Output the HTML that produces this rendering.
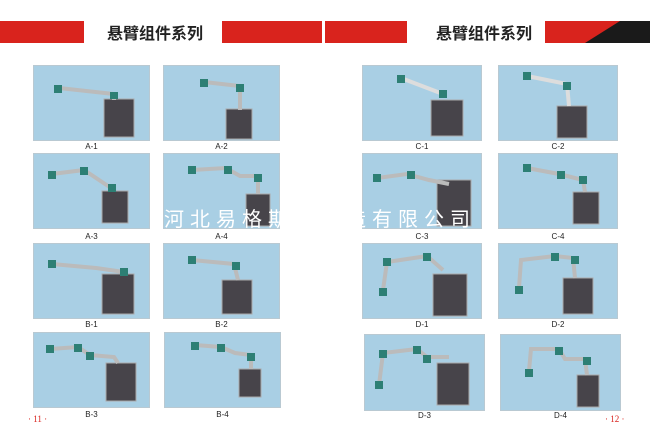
<!DOCTYPE html>
<html><head><meta charset="utf-8"><style>
body{margin:0;width:650px;height:444px;background:#fff;position:relative;overflow:hidden;font-family:"Liberation Sans","Noto Sans CJK SC",sans-serif}
.r{position:absolute;background:#d9231d;top:21px;height:22px}
.t{position:absolute;top:21px;font:bold 16px "Noto Sans CJK SC",sans-serif;color:#222;line-height:22px}
.p{position:absolute;width:117px;height:76px;background:#a9cfe4;border:1px solid #b9c9d2;box-sizing:border-box}
.p svg{position:absolute;left:0;top:0}
.l{position:absolute;width:117px;text-align:center;font-size:8px;color:#222}
.n{position:absolute;top:414px;font:9px "Liberation Serif",serif;color:#d9231d}
.w{position:absolute;left:164px;top:203px;font:20px "Noto Sans CJK SC",sans-serif;color:#fff;letter-spacing:6px;white-space:nowrap}
</style></head><body>
<div class="r" style="left:0;width:84px"></div>
<div class="t" style="left:107px">悬臂组件系列</div>
<div class="r" style="left:222px;width:100px"></div>
<div class="r" style="left:325px;width:82px"></div>
<div class="t" style="left:436px">悬臂组件系列</div>
<div class="r" style="left:545px;width:105px"></div>
<svg style="position:absolute;left:545px;top:21px" width="105" height="22"><polygon points="40,22 75,0 105,0 105,22" fill="#1a1a1a"/></svg>

<div class="p" style="left:33px;top:65px"><svg width="117" height="76"><rect x="70" y="33" width="30" height="38" fill="#47444a" stroke="#aaa"/><polyline points="25,22 80,28 80,34" fill="none" stroke="#bbb" stroke-width="4"/><rect x="20" y="19" width="8" height="8" fill="#2d7f74"/><rect x="76" y="26" width="8" height="7" fill="#2d7f74"/></svg></div>
<div class="l" style="left:33px;top:142px">A-1</div>
<div class="p" style="left:163px;top:65px"><svg width="117" height="76"><rect x="62" y="43" width="26" height="30" fill="#47444a" stroke="#aaa"/><polyline points="40,16 76,20 76,44" fill="none" stroke="#bbb" stroke-width="4"/><rect x="36" y="13" width="8" height="8" fill="#2d7f74"/><rect x="72" y="18" width="8" height="8" fill="#2d7f74"/></svg></div>
<div class="l" style="left:163px;top:142px">A-2</div>
<div class="p" style="left:33px;top:153px"><svg width="117" height="76"><rect x="68" y="37" width="26" height="32" fill="#47444a" stroke="#aaa"/><polyline points="18,20 50,16 80,36" fill="none" stroke="#bbb" stroke-width="4"/><rect x="14" y="17" width="8" height="8" fill="#2d7f74"/><rect x="46" y="13" width="8" height="8" fill="#2d7f74"/><rect x="74" y="30" width="8" height="8" fill="#2d7f74"/></svg></div>
<div class="l" style="left:33px;top:232px">A-3</div>
<div class="p" style="left:163px;top:153px"><svg width="117" height="76"><rect x="82" y="40" width="24" height="32" fill="#47444a" stroke="#aaa"/><polyline points="28,16 62,14 76,22 94,22 94,40" fill="none" stroke="#bbb" stroke-width="4"/><rect x="24" y="12" width="8" height="8" fill="#2d7f74"/><rect x="60" y="12" width="8" height="8" fill="#2d7f74"/><rect x="90" y="20" width="8" height="8" fill="#2d7f74"/></svg></div>
<div class="l" style="left:163px;top:232px">A-4</div>
<div class="p" style="left:33px;top:243px"><svg width="117" height="76"><rect x="68" y="30" width="32" height="40" fill="#47444a" stroke="#aaa"/><polyline points="18,20 62,24 90,28" fill="none" stroke="#bbb" stroke-width="4"/><rect x="14" y="16" width="8" height="8" fill="#2d7f74"/><rect x="86" y="24" width="8" height="8" fill="#2d7f74"/></svg></div>
<div class="l" style="left:33px;top:320px">B-1</div>
<div class="p" style="left:163px;top:243px"><svg width="117" height="76"><rect x="58" y="36" width="30" height="34" fill="#47444a" stroke="#aaa"/><polyline points="28,16 70,20 74,36" fill="none" stroke="#bbb" stroke-width="4"/><rect x="24" y="12" width="8" height="8" fill="#2d7f74"/><rect x="68" y="18" width="8" height="8" fill="#2d7f74"/></svg></div>
<div class="l" style="left:163px;top:320px">B-2</div>
<div class="p" style="left:33px;top:332px"><svg width="117" height="76"><rect x="72" y="30" width="30" height="38" fill="#47444a" stroke="#aaa"/><polyline points="16,16 44,14 56,22 80,24 84,30" fill="none" stroke="#bbb" stroke-width="4"/><rect x="12" y="12" width="8" height="8" fill="#2d7f74"/><rect x="40" y="11" width="8" height="8" fill="#2d7f74"/><rect x="52" y="19" width="8" height="8" fill="#2d7f74"/></svg></div>
<div class="l" style="left:33px;top:410px">B-3</div>
<div class="p" style="left:164px;top:332px"><svg width="117" height="76"><rect x="74" y="36" width="22" height="28" fill="#47444a" stroke="#aaa"/><polyline points="30,12 56,14 70,20 86,22 86,36" fill="none" stroke="#bbb" stroke-width="4"/><rect x="26" y="9" width="8" height="8" fill="#2d7f74"/><rect x="52" y="11" width="8" height="8" fill="#2d7f74"/><rect x="82" y="20" width="8" height="8" fill="#2d7f74"/></svg></div>
<div class="l" style="left:164px;top:410px">B-4</div>

<div class="p" style="left:362px;top:65px;width:120px"><svg width="120" height="76"><rect x="68" y="34" width="32" height="36" fill="#47444a" stroke="#aaa"/><polyline points="38,12 80,28" fill="none" stroke="#ddd" stroke-width="4"/><rect x="34" y="9" width="8" height="8" fill="#2d7f74"/><rect x="76" y="24" width="8" height="8" fill="#2d7f74"/></svg></div>
<div class="l" style="left:362px;top:142px;width:120px">C-1</div>
<div class="p" style="left:498px;top:65px;width:120px"><svg width="120" height="76"><rect x="58" y="40" width="30" height="32" fill="#47444a" stroke="#aaa"/><polyline points="28,10 68,18 70,40" fill="none" stroke="#ddd" stroke-width="4"/><rect x="24" y="6" width="8" height="8" fill="#2d7f74"/><rect x="64" y="16" width="8" height="8" fill="#2d7f74"/></svg></div>
<div class="l" style="left:498px;top:142px;width:120px">C-2</div>
<div class="p" style="left:362px;top:153px;width:120px"><svg width="120" height="76"><rect x="74" y="26" width="34" height="46" fill="#47444a" stroke="#aaa"/><polyline points="14,24 44,20 66,26 86,30" fill="none" stroke="#bbb" stroke-width="4"/><rect x="10" y="20" width="8" height="8" fill="#2d7f74"/><rect x="44" y="17" width="8" height="8" fill="#2d7f74"/></svg></div>
<div class="l" style="left:362px;top:232px;width:120px">C-3</div>
<div class="p" style="left:498px;top:153px;width:120px"><svg width="120" height="76"><rect x="74" y="38" width="26" height="32" fill="#47444a" stroke="#aaa"/><polyline points="28,14 60,20 84,26 86,38" fill="none" stroke="#bbb" stroke-width="4"/><rect x="24" y="10" width="8" height="8" fill="#2d7f74"/><rect x="58" y="17" width="8" height="8" fill="#2d7f74"/><rect x="80" y="22" width="8" height="8" fill="#2d7f74"/></svg></div>
<div class="l" style="left:498px;top:232px;width:120px">C-4</div>
<div class="p" style="left:362px;top:243px;width:120px"><svg width="120" height="76"><rect x="70" y="30" width="34" height="42" fill="#47444a" stroke="#aaa"/><polyline points="20,46 24,18 64,12 80,26" fill="none" stroke="#bbb" stroke-width="4"/><rect x="16" y="44" width="8" height="8" fill="#2d7f74"/><rect x="20" y="14" width="8" height="8" fill="#2d7f74"/><rect x="60" y="9" width="8" height="8" fill="#2d7f74"/></svg></div>
<div class="l" style="left:362px;top:320px;width:120px">D-1</div>
<div class="p" style="left:498px;top:243px;width:120px"><svg width="120" height="76"><rect x="64" y="34" width="30" height="36" fill="#47444a" stroke="#aaa"/><polyline points="20,44 22,16 56,12 74,14 76,34" fill="none" stroke="#bbb" stroke-width="4"/><rect x="16" y="42" width="8" height="8" fill="#2d7f74"/><rect x="52" y="9" width="8" height="8" fill="#2d7f74"/><rect x="72" y="12" width="8" height="8" fill="#2d7f74"/></svg></div>
<div class="l" style="left:498px;top:320px;width:120px">D-2</div>
<div class="p" style="left:364px;top:334px;width:121px;height:77px"><svg width="121" height="77"><rect x="72" y="28" width="32" height="42" fill="#47444a" stroke="#aaa"/><polyline points="14,50 18,18 52,14 62,22 84,22" fill="none" stroke="#bbb" stroke-width="4"/><rect x="10" y="46" width="8" height="8" fill="#2d7f74"/><rect x="14" y="15" width="8" height="8" fill="#2d7f74"/><rect x="48" y="11" width="8" height="8" fill="#2d7f74"/><rect x="58" y="20" width="8" height="8" fill="#2d7f74"/></svg></div>
<div class="l" style="left:364px;top:411px;width:121px">D-3</div>
<div class="p" style="left:500px;top:334px;width:121px;height:77px"><svg width="121" height="77"><rect x="76" y="40" width="22" height="32" fill="#47444a" stroke="#aaa"/><polyline points="28,36 30,14 58,14 64,24 84,24 86,40" fill="none" stroke="#bbb" stroke-width="4"/><rect x="24" y="34" width="8" height="8" fill="#2d7f74"/><rect x="54" y="12" width="8" height="8" fill="#2d7f74"/><rect x="82" y="22" width="8" height="8" fill="#2d7f74"/></svg></div>
<div class="l" style="left:500px;top:411px;width:121px">D-4</div>

<div class="w">河北易格斯机制造有限公司</div>
<div class="n" style="left:28px">· 11 ·</div>
<div class="n" style="left:605px">· 12 ·</div>
</body></html>
